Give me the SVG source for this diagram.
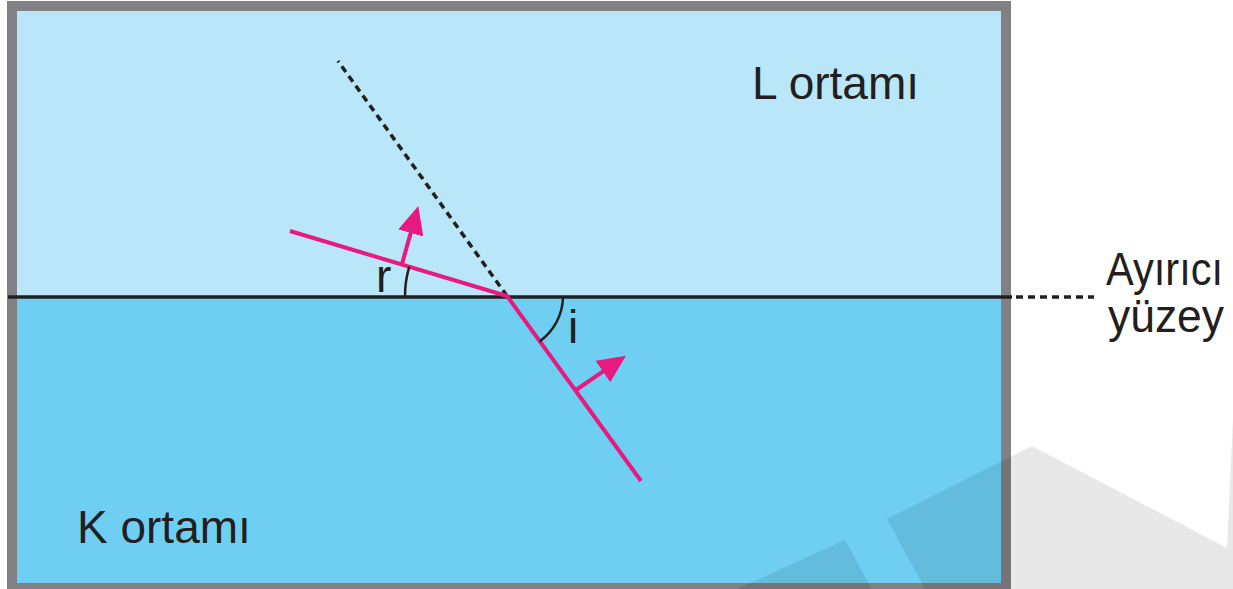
<svg xmlns="http://www.w3.org/2000/svg" width="1233" height="589" viewBox="0 0 1233 589">
  <style>
    .lbl { font-family: "Liberation Sans", Arial, Helvetica, sans-serif; font-size: 46px; fill: #231f20; }
    .ray { fill: none; stroke: #e8197f; stroke-width: 4; stroke-linejoin: miter; }
    .arr { fill: none; stroke: #e8197f; stroke-width: 4; }
    .ink { fill: none; stroke: #231f20; }
    .dash { stroke-dasharray: 7 5; }
  </style>
  <defs>
    <marker id="head" viewBox="0 0 28 26" refX="18" refY="13" markerWidth="28" markerHeight="26" markerUnits="userSpaceOnUse" orient="auto">
      <path d="M0,0 L28,13 L0,26 Z" fill="#e8197f"/>
    </marker>
  </defs>

  <g id="background">
    <rect x="0" y="0" width="1233" height="589" fill="#ffffff"/>
  </g>

  <g id="L-medium">
    <rect x="12" y="6" width="994" height="291" fill="#b9e6f8"/>
    <text class="lbl" x="752" y="99">L ortamı</text>
  </g>

  <g id="K-medium">
    <rect x="12" y="297" width="994" height="290" fill="#6ecff3"/>
    <text class="lbl" x="77" y="543">K ortamı</text>
  </g>

  <g id="frame">
    <rect x="12" y="6" width="994" height="582" fill="none" stroke="#818185" stroke-width="10"/>
  </g>

  <g id="connectors">
    <line class="ink dash" x1="507" y1="296" x2="338" y2="61" stroke-width="3.5"/>
    <line class="ink" x1="8" y1="297" x2="1012" y2="297" stroke-width="3.5"/>
    <line class="ink dash" x1="1016" y1="297" x2="1094" y2="297" stroke-width="3.5"/>
    <polyline class="ray" points="290,231 507,296 641,481"/>
    <line class="arr" x1="402" y1="264" x2="415.6" y2="215.6" marker-end="url(#head)"/>
    <line class="arr" x1="576" y1="390" x2="617.7" y2="361.4" marker-end="url(#head)"/>
    <path class="ink" d="M405,297 A102,102 0 0 1 409.3,266.7" stroke-width="2.5"/>
    <path class="ink" d="M563,297 A56,56 0 0 1 539.7,341.4" stroke-width="2.5"/>
  </g>

  <g id="angle-labels">
    <text class="lbl" x="376" y="292">r</text>
    <text class="lbl" x="568" y="343">i</text>
  </g>

  <g id="surface-label">
    <text class="lbl" x="1106" y="285" textLength="117" lengthAdjust="spacingAndGlyphs">Ayırıcı</text>
    <text class="lbl" x="1108" y="332" textLength="116" lengthAdjust="spacingAndGlyphs">yüzey</text>
  </g>

  <g id="watermark" fill="#000000" fill-opacity="0.09">
    <polygon points="887,519 1032,446 1227,548 1233,418 1233,589 925,589"/>
    <polygon points="737,589 845,540 872,589"/>
  </g>
</svg>
